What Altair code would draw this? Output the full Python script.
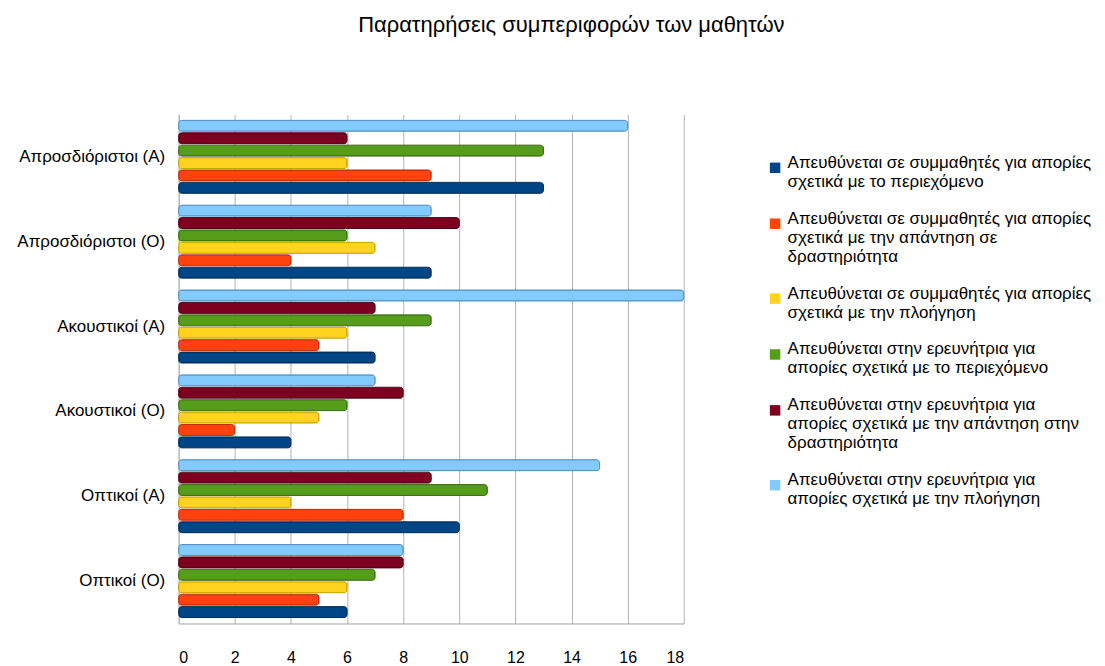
import altair as alt
import pandas as pd

categories = ["Απροσδιόριστοι (Α)", "Απροσδιόριστοι (Ο)", "Ακουστικοί (Α)",
              "Ακουστικοί (Ο)", "Οπτικοί (Α)", "Οπτικοί (Ο)"]

series = [
    "Απευθύνεται σε συμμαθητές για απορίες\nσχετικά με το περιεχόμενο",
    "Απευθύνεται σε συμμαθητές για απορίες\nσχετικά με την απάντηση σε\nδραστηριότητα",
    "Απευθύνεται σε συμμαθητές για απορίες\nσχετικά με την πλοήγηση",
    "Απευθύνεται στην ερευνήτρια για\nαπορίες σχετικά με το περιεχόμενο",
    "Απευθύνεται στην ερευνήτρια για\nαπορίες σχετικά με την απάντηση στην\nδραστηριότητα",
    "Απευθύνεται στην ερευνήτρια για\nαπορίες σχετικά με την πλοήγηση",
]

colors = ["#004586", "#ff420e", "#ffd320", "#579d1c", "#7e0021", "#83caff"]
strokes = ["#002b55", "#b82e08", "#c9a400", "#3a6a12", "#4d0014", "#4f8fc0"]

# values per series, in the order of categories
s1 = [13, 9, 7, 4, 10, 6]
s2 = [9, 4, 5, 2, 8, 5]
s3 = [6, 7, 6, 5, 4, 6]
s4 = [13, 6, 9, 6, 11, 7]
s5 = [6, 10, 7, 8, 9, 8]
s6 = [16, 9, 18, 7, 15, 8]

x_ticks = [0, 2, 4, 6, 8, 10, 12, 14, 16, 18]

rows = []
for name, vals in zip(series, [s1, s2, s3, s4, s5, s6]):
    for c, v in zip(categories, vals):
        rows.append({"category": c, "series": name, "value": v})
df = pd.DataFrame(rows)

font = "Liberation Sans"

chart = alt.Chart(df).mark_bar(cornerRadius=3, strokeWidth=1).encode(
    y=alt.Y("category:N", sort=categories, title=None,
            scale=alt.Scale(paddingInner=0.14, paddingOuter=0.07),
            axis=alt.Axis(labelFontSize=17, labelColor="#000000", labelFont=font,
                          ticks=False, labelPadding=14, domainColor="#b3b3b3")),
    yOffset=alt.YOffset("series:N", sort=list(reversed(series)),
                        scale=alt.Scale(paddingInner=0.12, paddingOuter=0.0)),
    x=alt.X("value:Q", title=None,
            scale=alt.Scale(domain=[0, 18], nice=False),
            axis=alt.Axis(values=x_ticks, labelFontSize=16, labelColor="#000000",
                          labelFont=font, ticks=False, labelPadding=26,
                          domainColor="#a0a0a0", gridColor="#b3b3b3", grid=True)),
    color=alt.Color("series:N", sort=series,
                    scale=alt.Scale(domain=series, range=colors),
                    legend=alt.Legend(title=None, orient="none", legendX=589, legendY=45,
                                      labelExpr="split(datum.label, '\\n')",
                                      labelFontSize=17, labelFont=font, labelColor="#000000",
                                      labelBaseline="alphabetic", labelLimit=400,
                                      symbolType="square", symbolSize=110,
                                      symbolStrokeWidth=0, labelOffset=4, rowPadding=19)),
    stroke=alt.Stroke("series:N", sort=series,
                      scale=alt.Scale(domain=series, range=strokes), legend=None),
).properties(
    width=506, height=510,
    padding={"left": 8, "top": 5, "right": 5, "bottom": 5},
    title=alt.TitleParams("Παρατηρήσεις συμπεριφορών των μαθητών", fontSize=22,
                          font=font, fontWeight="normal", color="#000000",
                          frame="bounds", anchor="middle", offset=78, dx=17),
).configure_view(stroke=None).configure_axisY(grid=False)

chart.save("out.html", embed_options={"renderer": "svg", "actions": False})
